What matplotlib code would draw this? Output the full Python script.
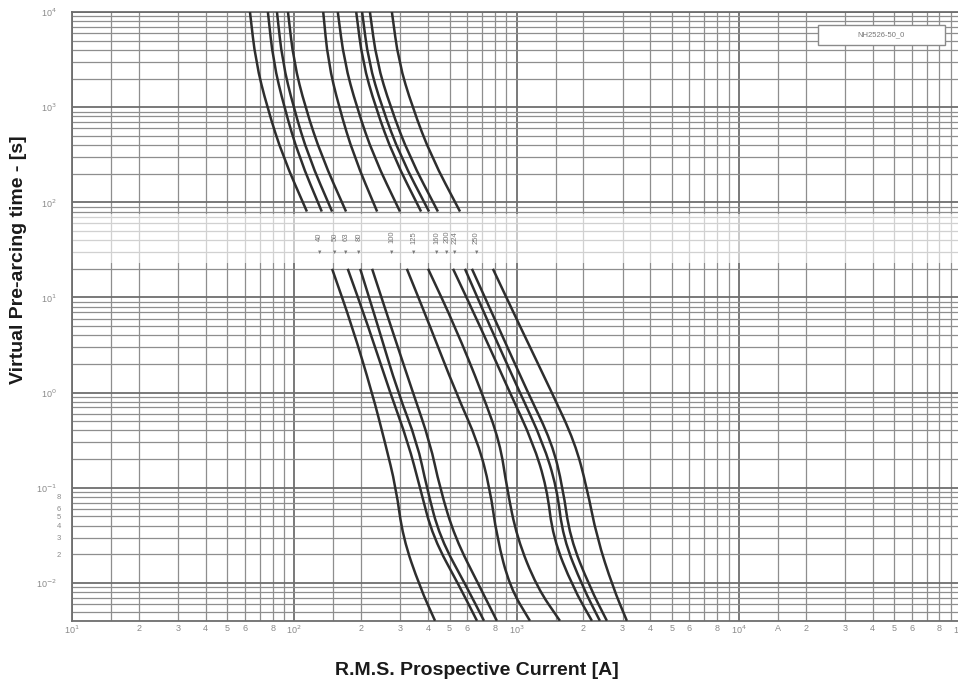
import numpy as np
import matplotlib.pyplot as plt
from matplotlib.ticker import FixedLocator, FixedFormatter
from matplotlib.patches import Rectangle, PathPatch
from matplotlib.path import Path

# Time-current (pre-arcing) curves
# upper part of each curve (long times), it stops at the label band
t_upper = [10000, 3000, 1000, 300, 80]
i_upper = [
    [63.2, 67.1, 75.5, 89.0, 114],
    [76.1, 80.5, 90.1, 105, 133],
    [83.6, 88.5, 99.2, 116, 148],
    [93.7, 99.5, 112, 133, 171],
    [135, 142, 159, 186, 236],
    [157, 168, 191, 228, 299],
    [190, 203, 232, 280, 372],
    [202, 216, 248, 301, 404],
    [219, 235, 271, 330, 443],
    [275, 295, 340, 414, 557],
]
# lower part (short times)
t_lower = [20, 5, 1, 0.3, 0.1, 0.03, 0.009, 0.004]
i_lower = [
    [148, 182, 224, 256, 287, 308, 368, 430],
    [174, 215, 270, 325, 368, 421, 557, 664],
    [198, 238, 293, 357, 395, 452, 598, 714],
    [224, 272, 342, 408, 452, 528, 685, 816],
    [321, 408, 534, 671, 759, 816, 934, 1149],
    [400, 528, 699, 842, 905, 1004, 1236, 1568],
    [518, 685, 934, 1185, 1370, 1458, 1794, 2184],
    [586, 759, 1036, 1314, 1520, 1617, 1989, 2372],
    [630, 825, 1125, 1443, 1617, 1739, 2139, 2551],
    [783, 1036, 1443, 1831, 2074, 2300, 2716, 3138],
]
ratings = ['40', '50', '63', '80', '100', '125', '160', '200', '224', '250']

x_major = [1e1, 1e2, 1e3, 1e4, 1e5]
x_major_labels = ['10$^1$', '10$^2$', '10$^3$', '10$^4$', '10$^5$']
x_minor_steps = [1.5, 2, 3, 4, 5, 6, 7, 8, 9]
x_minor_names = {2: '2', 3: '3', 4: '4', 5: '5', 6: '6', 8: '8'}

y_major = [1e-2, 1e-1, 1e0, 1e1, 1e2, 1e3, 1e4]
y_major_labels = ['10$^{-2}$', '10$^{-1}$', '10$^0$', '10$^1$', '10$^2$', '10$^3$', '10$^4$']
y_minor_steps = [2, 3, 4, 5, 6, 7, 8, 9]

box_text = 'NH2526-50_0'


def smooth_curve(xs, ys):
    # quadratic bezier through the midpoints (in log space) of the read points
    lx, ly = np.log10(xs), np.log10(ys)
    mid = lambda j: (10**((lx[j] + lx[j+1])/2), 10**((ly[j] + ly[j+1])/2))
    verts = [(xs[0], ys[0]), mid(0)]
    codes = [Path.MOVETO, Path.LINETO]
    for j in range(1, len(xs) - 1):
        verts += [(xs[j], ys[j]), mid(j)]
        codes += [Path.CURVE3, Path.CURVE3]
    verts.append((xs[-1], ys[-1]))
    codes.append(Path.LINETO)
    return Path(verts, codes)


plt.rcParams['font.family'] = ['Liberation Sans', 'DejaVu Sans']

fig = plt.figure(figsize=(9.58, 6.83), dpi=100)
ax = fig.add_axes([72/958, 1-620.8/683, 889/958, 608.8/683])
ax.set_xscale('log')
ax.set_yscale('log')
ax.set_xlim(1e1, 1e5)
ax.set_ylim(0.004, 1e4)

# ticks and labels
x_minor = []
x_minor_lab = []
for dec in x_major[:-1]:
    for s in x_minor_steps:
        x_minor.append(dec*s)
        if dec == 1e4 and s == 1.5:
            x_minor_lab.append('A')
        else:
            x_minor_lab.append(x_minor_names.get(s, ''))
ax.xaxis.set_major_locator(FixedLocator(x_major))
ax.xaxis.set_major_formatter(FixedFormatter(x_major_labels))
ax.xaxis.set_minor_locator(FixedLocator(x_minor))
ax.xaxis.set_minor_formatter(FixedFormatter(x_minor_lab))

y_minor = []
y_minor_lab = []
for dec in [1e-3] + y_major[:-1]:
    for s in y_minor_steps:
        if 0.004 <= dec*s <= 1e4:
            y_minor.append(dec*s)
            y_minor_lab.append(str(s) if dec == 1e-2 and s in (2, 3, 4, 5, 6, 8) else '')
ax.yaxis.set_major_locator(FixedLocator(y_major))
ax.yaxis.set_major_formatter(FixedFormatter(y_major_labels))
ax.yaxis.set_minor_locator(FixedLocator(y_minor))
ax.yaxis.set_minor_formatter(FixedFormatter(y_minor_lab))

ax.tick_params(which='both', length=0, labelsize=6.5, labelcolor='#8a8a8a')
ax.tick_params(axis='x', which='both', pad=2)
ax.tick_params(axis='y', which='major', pad=11)
ax.tick_params(axis='y', which='minor', pad=8, labelsize=5.5)

ax.set_axisbelow(True)
ax.grid(which='major', color='#6e6e6e', lw=1.3)
ax.grid(which='minor', color='#8e8e8e', lw=0.9)
for sp in ax.spines.values():
    sp.set_color('#6e6e6e')
    sp.set_linewidth(1.3)

# label band: grid is faded there
ax.axhspan(23, 76, color='white', alpha=0.6, lw=0, zorder=1)

for k in range(len(i_upper)):
    for xs, ys in [(i_upper[k], t_upper), (i_lower[k], t_lower)]:
        ax.add_patch(PathPatch(smooth_curve(xs, ys), fill=False,
                               edgecolor='#2e2e2e', lw=1.8, zorder=3))
    xm = np.sqrt(i_upper[k][-1]*i_lower[k][0])
    ax.text(xm, 43, ratings[k], rotation=90, ha='center', va='center',
            fontsize=5.5, color='#777777', zorder=4)
    ax.text(xm, 30, '\u25BC', ha='center', va='center', fontsize=4,
            color='#777777', zorder=4)

# curve set name box
ax.add_patch(Rectangle((0.839, 0.9458), 0.143, 0.033, transform=ax.transAxes,
                       facecolor='white', edgecolor='#8a8a8a', lw=1, zorder=5))
ax.text(0.9105, 0.962, box_text, transform=ax.transAxes, ha='center', va='center',
        fontsize=5.5, color='#777777', zorder=6)

fig.text(0.498, 0.019, 'R.M.S. Prospective Current [A]', ha='center', va='center',
         fontsize=14, fontweight='bold', color='#1a1a1a')
fig.text(0.019, 0.62, 'Virtual Pre-arcing time - [s]', ha='center', va='center',
         rotation=90, fontsize=14, fontweight='bold', color='#1a1a1a')

fig.savefig('out.png', dpi=100)
